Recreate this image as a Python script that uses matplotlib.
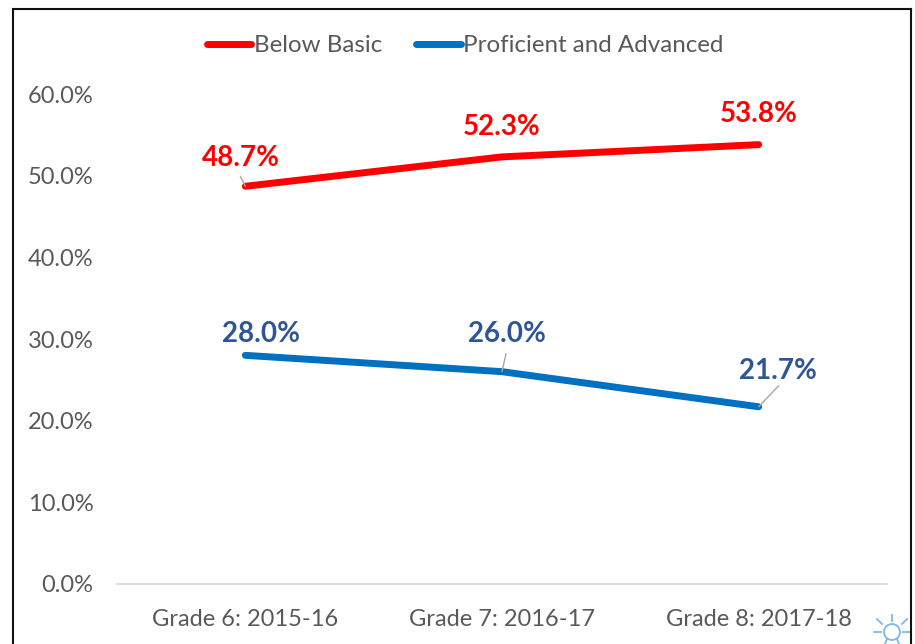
import matplotlib
matplotlib.use("Agg")
import matplotlib.pyplot as plt
from matplotlib.lines import Line2D
from matplotlib.patches import Circle
from matplotlib.ticker import PercentFormatter

W, H = 915, 644

categories = ["Grade 6: 2015-16", "Grade 7: 2016-17", "Grade 8: 2017-18"]
below_basic = [48.7, 52.3, 53.8]
proficient = [28.0, 26.0, 21.7]
y_ticks = [0, 10, 20, 30, 40, 50, 60]

RED = "#ff0000"
BLUE = "#0070c0"
LABEL_BLUE = "#2f5597"
GREY_TEXT = "#595959"
LINE_W = 5

# label centre offsets from the point, in pixels (y up)
below_offsets = [(-4, 28), (0, 30), (0, 31)]
prof_offsets = [(16, 21), (5, 38), (19, 36)]

plt.rcParams["font.family"] = ["Lato", "DejaVu Sans"]

fig = plt.figure(figsize=(W / 100, H / 100), dpi=100, facecolor="white")
ax = fig.add_axes([117 / W, 1 - 584 / H, 770 / W, 490 / H])
ax.patch.set_alpha(0)


def px(x, y):
    return x / W, 1 - y / H


xs = range(len(categories))
ax.plot(xs, below_basic, color=RED, lw=LINE_W, solid_capstyle="round", solid_joinstyle="round")
ax.plot(xs, proficient, color=BLUE, lw=LINE_W, solid_capstyle="round", solid_joinstyle="round")

ax.set_xlim(-0.5, 2.5)
ax.set_ylim(0, 60)
ax.set_xticks(list(xs))
ax.set_xticklabels(categories)
ax.set_yticks(y_ticks)
ax.yaxis.set_major_formatter(PercentFormatter(decimals=1))
ax.tick_params(axis="both", length=0, labelsize=17, labelcolor=GREY_TEXT)
ax.tick_params(axis="x", pad=18)
ax.tick_params(axis="y", pad=17)
for side in ["top", "left", "right"]:
    ax.spines[side].set_visible(False)
ax.spines["bottom"].set_color("#d9d9d9")
ax.spines["bottom"].set_linewidth(1.2)


def add_labels(values, offsets, color, leaders):
    for i, (val, off) in enumerate(zip(values, offsets)):
        # offset points: 1px = 0.72pt at dpi 100
        ax.annotate(f"{val:.1f}%", xy=(i, val),
                    xytext=(off[0] * 0.72, off[1] * 0.72), textcoords="offset points",
                    ha="center", va="center", fontsize=20, weight="bold", color=color)
        if leaders[i] is not None:
            lx, ly = leaders[i]
            ax.annotate("", xy=(i, val), xytext=(lx * 0.72, ly * 0.72),
                        textcoords="offset points",
                        arrowprops=dict(arrowstyle="-", color="#a6a6a6", lw=1,
                                        shrinkA=0, shrinkB=0))


add_labels(below_basic, below_offsets, RED, [(-5, 10), None, None])
add_labels(proficient, prof_offsets, LABEL_BLUE, [None, (4, 18), (20, 21)])

handles = [
    Line2D([], [], color=RED, lw=LINE_W, solid_capstyle="round"),
    Line2D([], [], color=BLUE, lw=LINE_W, solid_capstyle="round"),
]
fig.legend(handles, ["Below Basic", "Proficient and Advanced"], ncol=2, frameon=False,
           loc="center", bbox_to_anchor=px(465, 46), fontsize=17.4, labelcolor=GREY_TEXT,
           handlelength=1.85, handletextpad=0.1, columnspacing=1.4)

# lightbulb icon in the corner
bulb = "#7db8ea"
fig.add_artist(Circle((892, H - 632), 8, transform=None, fc="white", ec=bulb, lw=1.3))
for x0, y0, x1, y1 in [(892, 615, 892, 621), (877, 619, 882, 624), (907, 619, 902, 624),
                       (874, 632, 881, 632), (903, 632, 910, 632),
                       (887, 639, 885, 644), (897, 639, 899, 644)]:
    fig.add_artist(Line2D([x0 / W, x1 / W], [1 - y0 / H, 1 - y1 / H], color=bulb, lw=1.3))

# outer frame runs off the bottom of the picture
for (x0, y0), (x1, y1) in [[(13, H + 5), (13, 9)], [(13, 9), (911, 9)], [(911, 9), (911, H + 5)]]:
    fig.add_artist(Line2D([x0 / W, x1 / W], [1 - y0 / H, 1 - y1 / H], color="#111111", lw=1.5))

fig.savefig("out.png", dpi=100)
